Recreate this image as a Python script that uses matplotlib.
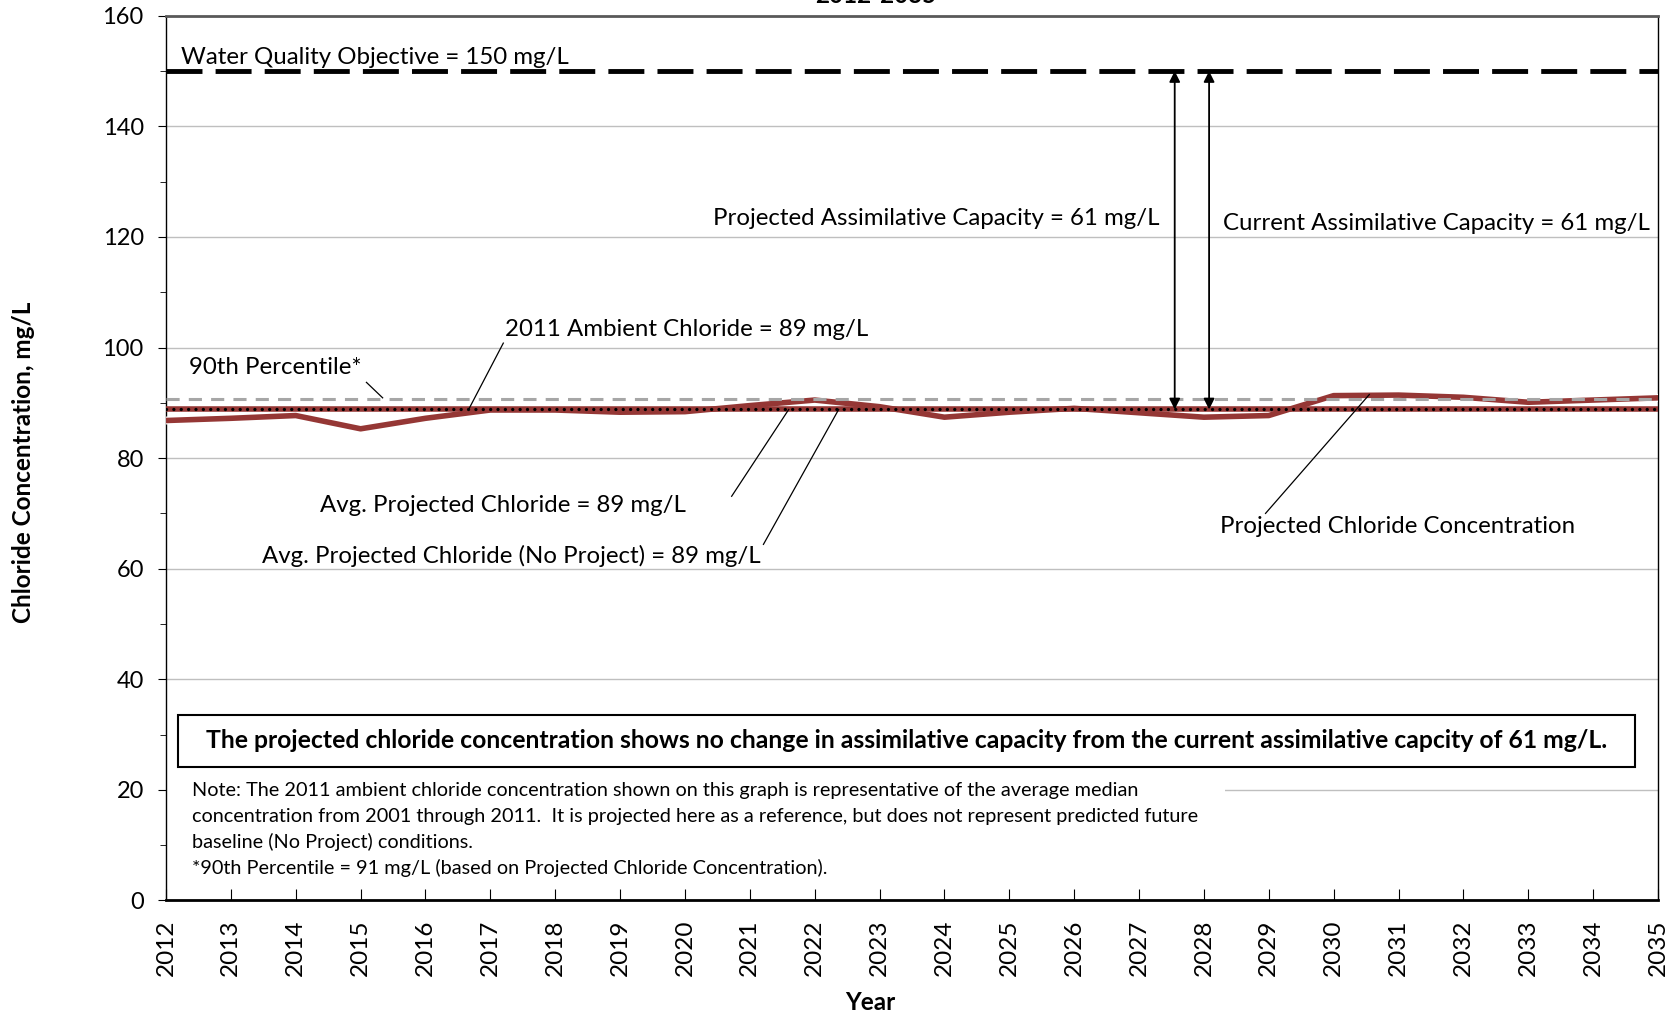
import numpy as np
import matplotlib
matplotlib.use("Agg")
import matplotlib.pyplot as plt
from matplotlib.patches import Rectangle
import matplotlib.patheffects as pe

plt.rcParams['font.family'] = ['Lato', 'DejaVu Sans']

# Data
years = np.arange(2012, 2036)
projected = [86.8, 87.2, 87.7, 85.3, 87.2, 88.7, 88.7, 88.3, 88.4, 89.5, 90.5, 89.3,
             87.4, 88.3, 89.0, 88.2, 87.4, 87.7, 91.3, 91.4, 91.0, 90.1, 90.5, 90.9]
wqo = 150
ambient_2011 = 88.8
avg_projected = 88.8
avg_noproject = 88.8
pct90 = 90.7
yticks = np.arange(0, 161, 20)

red = '#953735'

fig = plt.figure(figsize=(16.8, 10.16), dpi=100)
ax = fig.add_axes([0.0988, 0.1137, 0.8881, 0.8708])
ax.set_xlim(2012, 2035)
ax.set_ylim(0, 160)

# gridlines
for y in yticks[1:-1]:
    ax.axhline(y, color='#BFBFBF', lw=1.0, zorder=0)

# note area covers the gridline
ax.add_patch(Rectangle((2012, 2), 16.32, 20.5, facecolor='white', edgecolor='none', zorder=1))

# reference lines
ax.axhline(wqo, color='black', lw=3.5, linestyle=(0, (7.4, 2.7)), zorder=3)
ax.axhline(ambient_2011, color='black', lw=0.6, zorder=2)
ax.plot(years, projected, color=red, lw=4.0, zorder=3,
        path_effects=[pe.Stroke(linewidth=5.7, foreground='white'), pe.Normal()])
ax.axhline(avg_projected, color=red, lw=4.0, zorder=4)
ax.axhline(pct90, color='#A6A6A6', lw=2.2, linestyle=(0, (4.3, 3.0)), zorder=5)
ax.axhline(avg_noproject, color='black', lw=2.4, linestyle=(0, (0.01, 2.2)),
           dash_capstyle='round', zorder=6)

# assimilative capacity arrows
for x in [2027.55, 2028.08]:
    ax.annotate('', xy=(x, avg_projected), xytext=(x, wqo),
                arrowprops=dict(arrowstyle='<|-|>', color='black', lw=1.3,
                                mutation_scale=16, shrinkA=0, shrinkB=0), zorder=7)

fs = 17.3
ax.text(2012.23, 152.5, 'Water Quality Objective = 150 mg/L', fontsize=fs, va='center', ha='left', zorder=8)
ax.text(2027.32, 123.3, 'Projected Assimilative Capacity = 61 mg/L', fontsize=fs, va='center', ha='right')
ax.text(2028.29, 122.5, 'Current Assimilative Capacity = 61 mg/L', fontsize=fs, va='center', ha='left')
ax.text(2012.36, 96.4, '90th Percentile*', fontsize=fs, va='center', ha='left')
ax.text(2017.22, 103.2, '2011 Ambient Chloride = 89 mg/L', fontsize=fs, va='center', ha='left')
ax.text(2020.01, 71.4, 'Avg. Projected Chloride = 89 mg/L', fontsize=fs, va='center', ha='right')
ax.text(2021.17, 62.3, 'Avg. Projected Chloride (No Project) = 89 mg/L', fontsize=fs, va='center', ha='right')
ax.text(2028.25, 67.7, 'Projected Chloride Concentration', fontsize=fs, va='center', ha='left')

# leader lines
leaders = [((2015.09, 93.7), (2015.34, 90.9)),
           ((2017.20, 100.8), (2016.67, 88.9)),
           ((2020.72, 73.1), (2021.60, 88.8)),
           ((2021.21, 64.4), (2022.37, 88.8)),
           ((2028.95, 70.0), (2030.55, 91.5))]
for (x0, y0), (x1, y1) in leaders:
    ax.plot([x0, x1], [y0, y1], color='black', lw=0.9, zorder=7)

# boxed statement
ax.add_patch(Rectangle((2012.18, 24.1), 22.46, 9.5, facecolor='white', edgecolor='black', lw=1.5, zorder=8))
ax.text(2023.41, 28.85,
        'The projected chloride concentration shows no change in assimilative capacity from the current assimilative capcity of 61 mg/L.',
        fontsize=17.8, fontweight='bold', ha='center', va='center', zorder=9)

# note
note_lines = ['Note: The 2011 ambient chloride concentration shown on this graph is representative of the average median',
              'concentration from 2001 through 2011.  It is projected here as a reference, but does not represent predicted future',
              'baseline (No Project) conditions.',
              '*90th Percentile = 91 mg/L (based on Projected Chloride Concentration).']
for line, y in zip(note_lines, [19.86, 15.2, 10.56, 5.9]):
    ax.text(2012.40, y, line, fontsize=14.3, ha='left', va='center', zorder=9)

# axes styling
ax.set_yticks(yticks)
ax.set_yticks(np.arange(0, 161, 10), minor=True)
ax.set_xticks(years)
ax.set_xticklabels([str(y) for y in years], rotation=90, fontsize=17.5)
ax.tick_params(axis='y', which='major', direction='out', length=6, pad=10, labelsize=17)
ax.tick_params(axis='y', which='minor', direction='out', length=4)
ax.tick_params(axis='x', direction='in', length=8, pad=14)
for s in ['left', 'right']:
    ax.spines[s].set_linewidth(1.0)
ax.spines['bottom'].set_linewidth(2.0)
ax.spines['top'].set_color('#595959')
ax.spines['top'].set_linewidth(2.0)

fig.text(0.014, 0.545, 'Chloride Concentration, mg/L', rotation=90, fontsize=17.5,
         fontweight='bold', ha='center', va='center')
fig.text(0.518, 0.0128, 'Year', fontsize=17.5, fontweight='bold', ha='center', va='center')
fig.text(0.521, 1 - 3 / 1016, '2012-2035', fontsize=17.5, fontweight='bold', ha='center', va='baseline')

fig.savefig('out.png', dpi=100)
